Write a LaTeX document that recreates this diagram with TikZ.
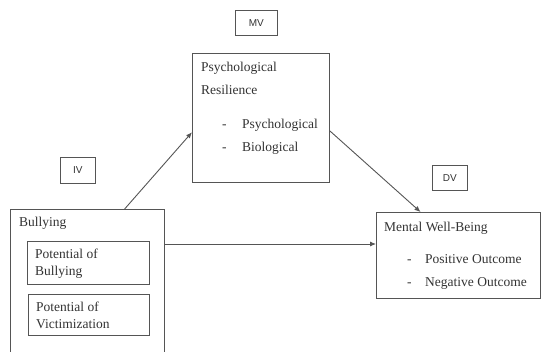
\documentclass[tikz,border=0pt]{standalone}
\usepackage{fontspec}
\setmainfont{Liberation Serif}
\setsansfont{Liberation Sans}
\usetikzlibrary{arrows.meta,calc}
\definecolor{ln}{HTML}{555555}
\definecolor{tx}{HTML}{333333}
\tikzset{
  box/.style={draw=ln, line width=0.9pt, rectangle, inner sep=0pt, anchor=north west},
  tag/.style={draw=ln, line width=0.8pt, rectangle, inner sep=0pt, anchor=north west, font=\sffamily\fontsize{10}{12}\selectfont, text=tx},
  lbl/.style={anchor=west, inner sep=0pt, text height=9pt, text depth=3pt, font=\fontsize{13.5}{15}\selectfont, text=tx},
  arr/.style={draw=ln, line width=0.9pt, -{Latex[length=6pt,width=5pt]}}
}
\begin{document}
\begin{tikzpicture}[x=1pt,y=-1pt]
\useasboundingbox (0,0) rectangle (541,351);
\clip (0,0) rectangle (541,351);
\fill[white] (0,0) rectangle (541,351);
% tags
\node[tag, minimum width=35pt, minimum height=26pt] (iv) at (60,157) {IV};
\node[tag, minimum width=42pt, minimum height=25pt] (mv) at (235,10) {MV};
\node[tag, minimum width=35pt, minimum height=25pt] (dv) at (432,165) {DV};
% boxes
\node[box, minimum width=154pt, minimum height=160pt] (bully) at (10,209) {};
\node[box, minimum width=122pt, minimum height=43pt] (pb) at (27,241) {};
\node[box, minimum width=121pt, minimum height=41pt] (pv) at (28,294) {};
\node[box, minimum width=137pt, minimum height=129pt] (psy) at (192,53) {};
\node[box, minimum width=164pt, minimum height=86pt] (mwb) at (376,212) {};
% texts
\node[lbl] (t1) at (19,223) {Bullying};
\node[lbl] (t2) at (35,255) {Potential of};
\node[lbl] (t3) at (35,272) {Bullying};
\node[lbl] (t4) at (36,308) {Potential of};
\node[lbl] (t5) at (36,325) {Victimization};
\node[lbl] (t6) at (201,68) {Psychological};
\node[lbl] (t7) at (201,91) {Resilience};
\node[lbl] (d1) at (222,125) {-};
\node[lbl] (t8) at (242,125) {Psychological};
\node[lbl] (d2) at (222,148) {-};
\node[lbl] (t9) at (242,148) {Biological};
\node[lbl] (t10) at (384,228) {Mental Well-Being};
\node[lbl] (d3) at (407,260) {-};
\node[lbl] (t11) at (425,260) {Positive Outcome};
\node[lbl] (d4) at (407,283) {-};
\node[lbl] (t12) at (425,283) {Negative Outcome};
% connectors
\coordinate (h) at (0,244);
\draw[arr] ($(bully.north west)!0.74!(bully.north east)$) -- ($(psy.north west)!0.61!(psy.south west)$);
\draw[arr] ($(psy.north east)!0.6!(psy.south east)$) -- ($(mwb.north west)!0.27!(mwb.north east)$);
\draw[arr] (bully.east |- h) -- (mwb.west |- h);
\end{tikzpicture}
\end{document}
